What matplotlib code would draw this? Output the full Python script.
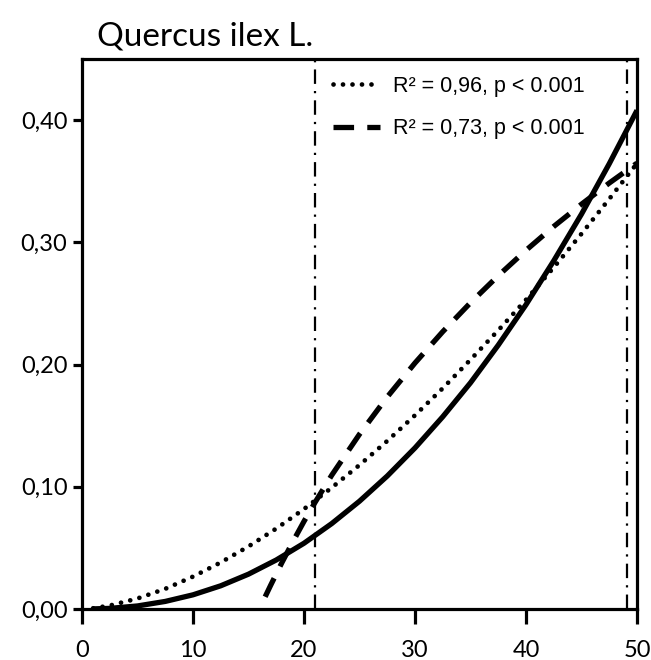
import matplotlib
matplotlib.use("Agg")
import matplotlib.pyplot as plt

# curves
x_fit = [1, 2.5, 5, 7.5, 10, 12.5, 15, 17.5, 20, 22.5, 25, 27.5,
         30, 32.5, 35, 37.5, 40, 42.5, 45, 47.5, 50]
y_solid = [0.0001, 0.0005, 0.0025, 0.0062, 0.0116, 0.0190, 0.0285, 0.0401,
           0.0538, 0.0699, 0.0882, 0.1088, 0.1318, 0.1573, 0.1851, 0.2159,
           0.2490, 0.2849, 0.3231, 0.3643, 0.4080]
y_dotted = [0.0006, 0.0028, 0.0086, 0.0165, 0.0265, 0.0381, 0.0512, 0.0658,
            0.0818, 0.0993, 0.1178, 0.1375, 0.1585, 0.1806, 0.2040, 0.2280,
            0.2530, 0.2795, 0.3070, 0.3355, 0.3646]

x_dash = [16.5, 17, 18, 19, 20, 21, 22.5, 25, 27.5, 30, 32.5, 35,
          37.5, 40, 42.5, 45, 47.5, 50]
y_dash = [0.0100, 0.0195, 0.0378, 0.0551, 0.0717, 0.0873, 0.1095, 0.1430,
          0.1735, 0.2013, 0.2269, 0.2506, 0.2727, 0.2935, 0.3130, 0.3312,
          0.3485, 0.3648]

v_lines = [21, 49.1]
labels = ["R\u00b2 = 0,96, p < 0.001", "R\u00b2 = 0,73, p < 0.001"]
x_ticks = [0, 10, 20, 30, 40, 50]
y_ticks = [0.0, 0.1, 0.2, 0.3, 0.4]
y_ticklabels = ["0,00", "0,10", "0,20", "0,30", "0,40"]

fig = plt.figure(figsize=(6.51, 6.60), dpi=100)
ax = fig.add_axes([82 / 651, 1 - 609 / 660, 555 / 651, 550 / 660])

for xv in v_lines:
    ax.axvline(xv, color="black", lw=1.6, linestyle=(0, (6.5, 3.2, 1, 3.2)))

ax.plot(x_fit, y_solid, color="black", lw=3.8, solid_capstyle="butt")
ax.plot(x_fit, y_dotted, color="black", lw=3.4, linestyle=(0, (0.01, 2.0)),
        dash_capstyle="round", label=labels[0])
ax.plot(x_dash, y_dash, color="black", lw=3.8, linestyle=(0, (3.9, 2.5)),
        dash_capstyle="butt", label=labels[1])

ax.set_xlim(0, 50)
ax.set_ylim(0, 0.45)
ax.set_xticks(x_ticks)
ax.set_yticks(y_ticks)
ax.set_yticklabels(y_ticklabels)

for s in ax.spines.values():
    s.set_linewidth(2.3)
ax.tick_params(axis="x", direction="out", length=11, width=2.3, pad=11,
               labelsize=17)
ax.tick_params(axis="y", direction="out", length=6.5, width=2.3, pad=4,
               labelsize=17)
for t in ax.get_xticklabels() + ax.get_yticklabels():
    t.set_fontfamily("Lato")

leg = ax.legend(loc="upper left", bbox_to_anchor=(0.418, 1.005), frameon=False,
                prop={"family": "Liberation Sans", "size": 15.5},
                handlelength=2.15, handletextpad=0.6, labelspacing=1.0)

fig.text(97 / 651, 1 - 36 / 660, "Quercus ilex L.", fontfamily="Lato",
         fontsize=24, va="center", ha="left")

fig.savefig("out.png", dpi=100)
